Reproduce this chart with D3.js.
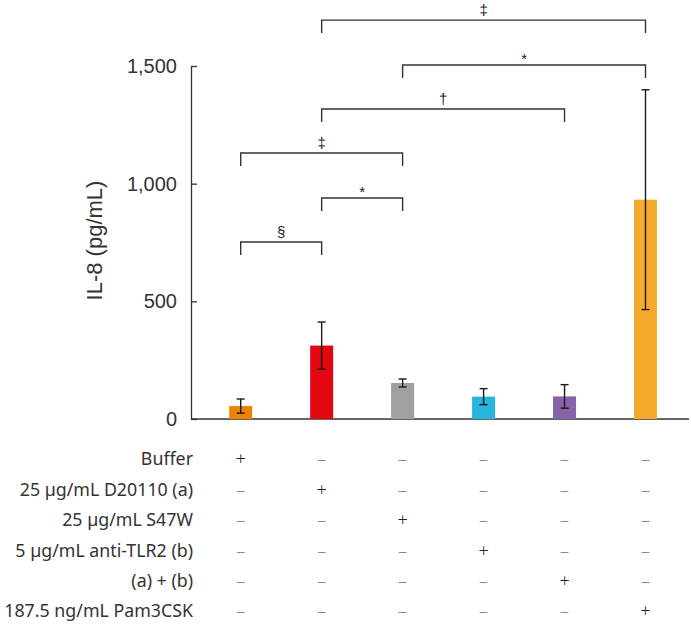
<!DOCTYPE html>
<html>
<head>
<meta charset="utf-8">
<script src="https://cdn.jsdelivr.net/npm/d3@7"></script>
<style>
  html, body { margin: 0; padding: 0; background: #fff; }
  svg { display: block; }
</style>
</head>
<body>
<svg id="chart" width="691" height="624"></svg>
<script>
// ---- data ----
const groups = ["Buffer", "D20110", "S47W", "anti-TLR2", "D20110 + anti-TLR2", "Pam3CSK"];
const means = [55, 312, 153, 95, 96, 932];
const errors = [30, 100, 17, 34, 50, 467];
const barColors = ["#EF8200", "#E30613", "#A0A0A0", "#26B5DC", "#8764A7", "#F6AA2C"];

const yTicks = [0, 500, 1000, 1500];
const yLabel = "IL-8 (pg/mL)";

const rowLabels = ["Buffer", "25 µg/mL D20110 (a)", "25 µg/mL S47W", "5 µg/mL anti-TLR2 (b)", "(a) + (b)", "187.5 ng/mL Pam3CSK"];
// treatment matrix: row r, group g -> 1 = "+"
const treatment = [
  [1, 0, 0, 0, 0, 0],
  [0, 1, 0, 0, 0, 0],
  [0, 0, 1, 0, 0, 0],
  [0, 0, 0, 1, 0, 0],
  [0, 0, 0, 0, 1, 0],
  [0, 0, 0, 0, 0, 1]
];

// significance brackets
const bracketFrom = [0, 1, 0, 1, 2, 1];
const bracketTo = [1, 2, 2, 4, 5, 5];
const bracketLevel = [752, 939, 1130, 1317, 1504, 1695];
const bracketLabel = ["§", "*", "‡", "†", "*", "‡"];

// ---- layout ----
const svg = d3.select("#chart");
const axisX = 191;
const x = d3.scalePoint().domain(groups).range([240.7, 645.5]);
const y = d3.scaleLinear().domain([0, 1500]).range([419, 66]);
const barW = 23;

// y axis
const yAxis = d3.axisLeft(y)
  .tickValues(yTicks)
  .tickFormat(d3.format(","))
  .tickSizeInner(-6)
  .tickSizeOuter(0)
  .tickPadding(14);
const gy = svg.append("g").attr("transform", `translate(${axisX},0)`).call(yAxis);
gy.selectAll("path, line").attr("stroke", "#333").attr("stroke-width", 1.3);
gy.selectAll("text")
  .attr("fill", "#333")
  .style("font-family", "'Liberation Sans', Arial, sans-serif")
  .style("font-size", "20px");

// baseline
svg.append("line")
  .attr("x1", axisX).attr("x2", 689)
  .attr("y1", y(0)).attr("y2", y(0))
  .attr("stroke", "#333").attr("stroke-width", 1.3);

// y label
svg.append("text")
  .attr("transform", `translate(102,${(y(0) + y(1500)) / 2 - 2}) rotate(-90)`)
  .attr("text-anchor", "middle")
  .attr("fill", "#333")
  .style("font-family", "'Liberation Sans', Arial, sans-serif")
  .style("font-size", "22px")
  .text(yLabel);

// bars
svg.append("g").selectAll("rect")
  .data(groups)
  .join("rect")
  .attr("x", d => x(d) - barW / 2)
  .attr("width", barW)
  .attr("y", (d, i) => y(means[i]))
  .attr("height", (d, i) => y(0) - y(means[i]))
  .attr("fill", (d, i) => barColors[i]);

// error bars
const eg = svg.append("g").attr("stroke", "#1a1a1a").attr("stroke-width", 1.4);
groups.forEach((g, i) => {
  const cx = x(g), top = y(means[i] + errors[i]), bot = y(means[i] - errors[i]);
  eg.append("line").attr("x1", cx).attr("x2", cx).attr("y1", top).attr("y2", bot);
  eg.append("line").attr("x1", cx - 4).attr("x2", cx + 4).attr("y1", top).attr("y2", top);
  eg.append("line").attr("x1", cx - 4).attr("x2", cx + 4).attr("y1", bot).attr("y2", bot);
});

// brackets
const bg = svg.append("g");
bracketFrom.forEach((f, i) => {
  const x1 = x(groups[f]), x2 = x(groups[bracketTo[i]]), by = y(bracketLevel[i]);
  bg.append("path")
    .attr("d", `M${x1},${by + 13}V${by}H${x2}V${by + 13}`)
    .attr("fill", "none").attr("stroke", "#333").attr("stroke-width", 1.4);
  bg.append("text")
    .attr("x", (x1 + x2) / 2)
    .attr("y", by - (bracketLabel[i] === "*" ? 1 : 5))
    .attr("text-anchor", "middle")
    .attr("fill", "#222")
    .style("font-family", "'Liberation Sans', Arial, sans-serif")
    .style("font-size", "15px")
    .text(bracketLabel[i]);
});

// treatment table
const rowY0 = 459, rowStep = 30.4;
const tg = svg.append("g");
rowLabels.forEach((lab, r) => {
  const ry = rowY0 + r * rowStep;
  tg.append("text")
    .attr("x", 193).attr("y", ry).attr("dy", "0.36em")
    .attr("text-anchor", "end")
    .attr("fill", "#333")
    .style("font-family", "'Noto Sans', sans-serif")
    .style("font-size", "17.8px")
    .text(lab);
  groups.forEach((g, c) => {
    const plus = treatment[r][c] === 1;
    tg.append("text")
      .attr("x", x(g)).attr("y", ry).attr("dy", "0.36em")
      .attr("text-anchor", "middle")
      .attr("fill", plus ? "#222" : "#888")
      .style("font-family", "'Noto Sans', sans-serif")
      .style("font-size", "18px")
      .style("font-weight", "300")
      .text(plus ? "+" : "\u2013");
  });
});
</script>
</body>
</html>
